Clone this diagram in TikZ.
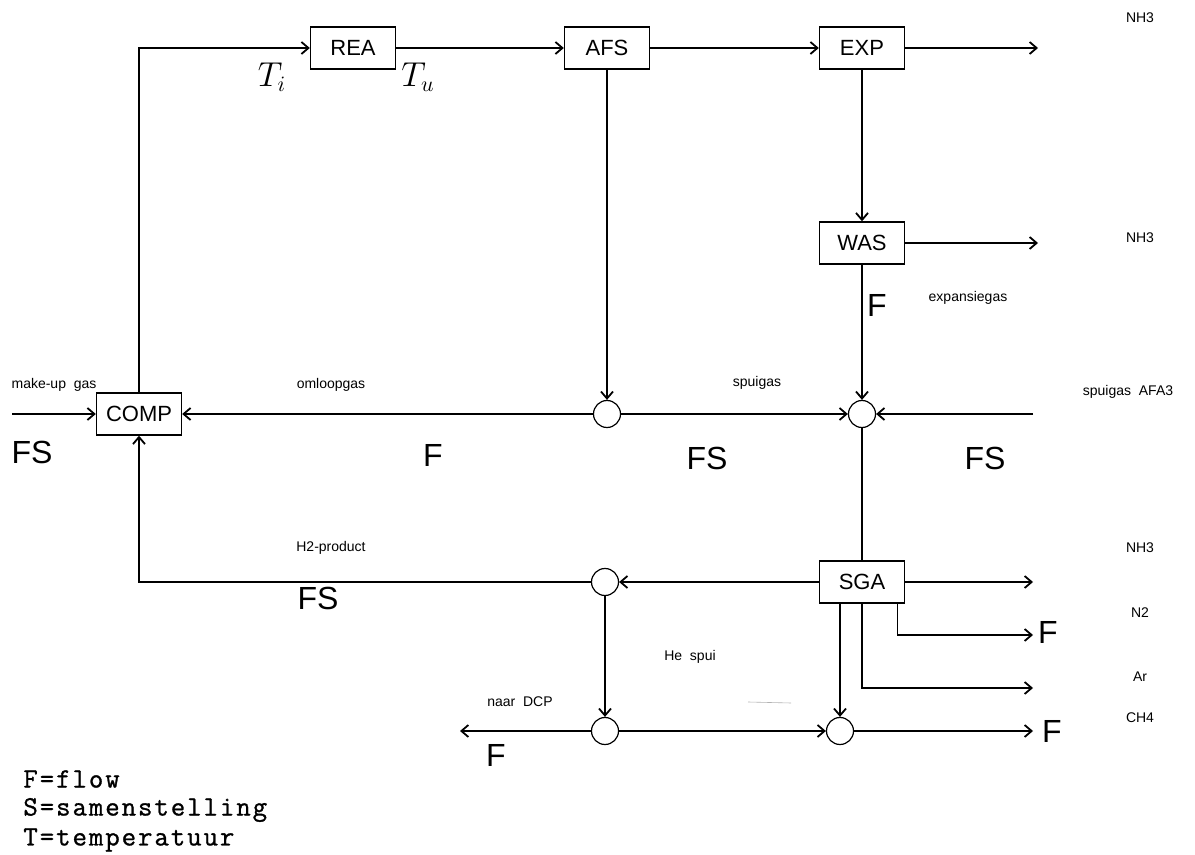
\documentclass[tikz,border=0pt]{standalone}
\usepackage{fontspec}
\setmainfont{Liberation Sans}
\newfontfamily\legendfont{Latin Modern Mono}[LetterSpace=7,FakeBold=1]
\usetikzlibrary{arrows.meta}
\tikzset{
  unit/.style={draw, line width=0.7pt, minimum width=42.5pt, minimum height=21pt, inner sep=0pt, font=\fontsize{11}{11}\selectfont},
  mixer/.style={draw, circle, line width=0.6pt, minimum size=13.5pt, inner sep=0pt},
  pipe/.style={line width=0.7pt},
  flow/.style={pipe, -{Straight Barb[length=3.5pt,width=6pt,line width=0.9pt]}},
  tag/.style={font=\fontsize{7}{7}\selectfont},
  hand/.style={font=\fontsize{16}{16}\selectfont},
  legend/.style={font=\legendfont\fontsize{14}{14}\selectfont, anchor=west, inner sep=0pt},
}

\begin{document}
\begin{tikzpicture}[x=0.5pt,y=-0.5pt]
  \useasboundingbox (0,0) rectangle (1195,855);
  % process units
  \node[unit] (rea) at (353,48) {REA};
  \node[unit] (afs) at (607,48) {AFS};
  \node[unit] (exp) at (862,48) {EXP};
  \node[unit] (was) at (862,243) {WAS};
  \node[unit] (comp) at (139,414) {COMP};
  \node[unit] (sga) at (862,582) {SGA};
  % mixing / splitting points
  \node[mixer] (m1) at (607,414) {};
  \node[mixer] (m2) at (862,414) {};
  \node[mixer] (m3) at (605,582) {};
  \node[mixer] (m4) at (605,731) {};
  \node[mixer] (m5) at (840,731) {};
  % free stream ends
  \coordinate (mkup) at (12,414);
  \coordinate (nh3a) at (1038,48);
  \coordinate (nh3b) at (1038,243);
  \coordinate (afa) at (1033,414);
  \coordinate (nh3c) at (1033,582);
  \coordinate (n2) at (1033,635);
  \coordinate (ar) at (1033,688);
  \coordinate (ch4) at (1033,731);
  \coordinate (dcp) at (460,731);
  % streams
  \draw[flow] (comp.north) |- (rea.west);
  \draw[flow] (rea) -- (afs);
  \draw[flow] (afs) -- (exp);
  \draw[flow] (exp) -- (nh3a);
  \draw[flow] (exp) -- (was);
  \draw[flow] (was) -- (nh3b);
  \draw[flow] (afs) -- (m1);
  \draw[flow] (was) -- (m2);
  \draw[flow] (mkup) -- (comp);
  \draw[flow] (m1) -- (comp);
  \draw[flow] (m1) -- (m2);
  \draw[flow] (afa) -- (m2);
  \draw[pipe] (m2) -- (sga);
  \draw[flow] (sga) -- (m3);
  \draw[flow] (m3) -| (comp.south);
  \draw[flow] (m3) -- (m4);
  \draw[flow] (m4) -- (dcp);
  \draw[flow] (m4) -- (m5);
  \draw[flow] (m5) -- (ch4);
  \draw[flow] (sga) -- (nh3c);
  \draw[flow] ([xshift=-4pt]sga.south east) |- (n2);
  \draw[flow] (sga.south) |- (ar);
  \draw[flow] (m5 |- sga.south) -- (m5);
  \draw[gray!60, line width=0.3pt] (748,702) -- (791,703);
  % stream names
  \node[tag] (tNH3a) at (1140,18) {NH3};
  \node[tag] (tNH3b) at (1140,238) {NH3};
  \node[tag] (tExp) at (968,298) {expansiegas};
  \node[tag] (tAfa) at (1128,392) {spuigas~~AFA3};
  \node[tag] (tSpui) at (757,383) {spuigas};
  \node[tag] (tOml) at (331,385) {omloopgas};
  \node[tag] (tMk) at (54,385) {make-up~~gas};
  \node[tag] (tH2) at (331,548) {H2-product};
  \node[tag] (tNH3c) at (1140,548) {NH3};
  \node[tag] (tN2) at (1140,613) {N2};
  \node[tag] (tAr) at (1140,677) {Ar};
  \node[tag] (tCH4) at (1140,718) {CH4};
  \node[tag] (tHe) at (690,657) {He~~spui};
  \node[tag] (tDcp) at (520,702) {naar~~DCP};
  % measured quantities
  \node[hand] (hTi) at (272,77) {$T_i$};
  \node[hand] (hTu) at (418,77) {$T_u$};
  \node[hand] (hFS1) at (32,452) {FS};
  \node[hand] (hF1) at (433,455) {F};
  \node[hand] (hFS2) at (707,458) {FS};
  \node[hand] (hFS3) at (985,458) {FS};
  \node[hand] (hF2) at (877,305) {F};
  \node[hand] (hFS4) at (318,598) {FS};
  \node[hand] (hF3) at (1048,632) {F};
  \node[hand] (hF4) at (1052,731) {F};
  \node[hand] (hF5) at (496,755) {F};
  % legend
  \node[legend] (lgF) at (23,779) {F=flow};
  \node[legend] (lgS) at (23,810) {S=samenstelling};
  \node[legend] (lgT) at (23,840) {T=temperatuur};
\end{tikzpicture}
\end{document}
